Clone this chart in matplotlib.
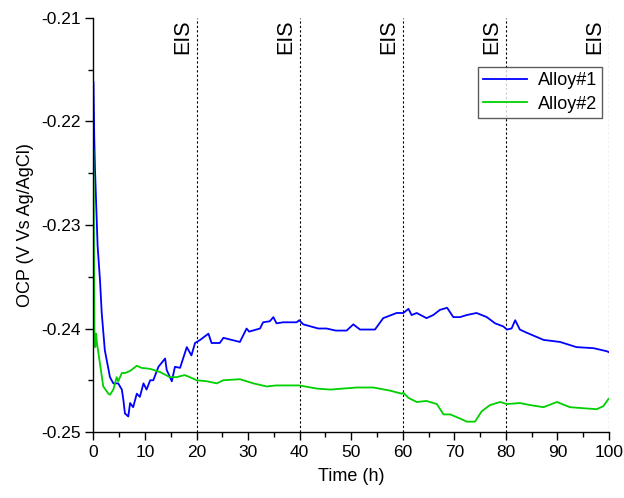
import matplotlib
matplotlib.use("Agg")
import matplotlib.pyplot as plt
from matplotlib.ticker import MultipleLocator

plt.rcParams["font.family"] = ["Liberation Sans", "DejaVu Sans"]

# OCP 时间曲线 (h, V vs Ag/AgCl)
t_alloy1 = [0, 0.15, 0.3, 0.8, 1.26, 1.6, 2.2, 3.2, 3.85, 4.8, 5.5, 5.8, 6.1, 6.75,
            7.1, 7.7, 8.4, 9.0, 9.7, 10.3, 11.0, 11.6, 12.6, 13.9, 14.2, 15.2, 15.8,
            16.8, 18.1, 19.0, 19.7, 20.7, 22.3, 22.9, 24.5, 25.2, 28.4, 29.7, 30.2,
            32.3, 32.9, 34.2, 34.9, 35.5, 36.8, 39.4, 39.9, 40.7, 43.6, 45.2, 47.0,
            49.1, 50.4, 51.7, 54.6, 56.2, 58.8, 60.1, 61.1, 61.7, 62.7, 64.6, 65.9,
            67.2, 68.6, 69.8, 71.1, 72.4, 74.3, 76.3, 77.9, 79.5, 80.2, 81.1, 81.8,
            82.7, 84.0, 87.3, 90.5, 93.7, 97.0, 99.6, 100]
v_alloy1 = [-0.2162, -0.2215, -0.2247, -0.2320, -0.2353, -0.2385, -0.2421, -0.2447,
            -0.2453, -0.2453, -0.2459, -0.2469, -0.2482, -0.2485, -0.2472, -0.2476,
            -0.2463, -0.2466, -0.2453, -0.2459, -0.2450, -0.2450, -0.2437, -0.2429,
            -0.2440, -0.2451, -0.2437, -0.2438, -0.2418, -0.2426, -0.2414, -0.2411,
            -0.2405, -0.2414, -0.2414, -0.2409, -0.2413, -0.2400, -0.2403, -0.2400,
            -0.2394, -0.2393, -0.2389, -0.2395, -0.2394, -0.2394, -0.2392, -0.2396,
            -0.2400, -0.2400, -0.2402, -0.2402, -0.2396, -0.2401, -0.2401, -0.2390,
            -0.2385, -0.2385, -0.2381, -0.2387, -0.2385, -0.2390, -0.2387, -0.2382,
            -0.2380, -0.2389, -0.2389, -0.2387, -0.2385, -0.2389, -0.2395, -0.2398,
            -0.2401, -0.2400, -0.2392, -0.2401, -0.2404, -0.2411, -0.2413, -0.2418,
            -0.2419, -0.2422, -0.2423]

t_alloy2 = [0, 0.1, 0.2, 0.35, 0.5, 0.7, 1.0, 1.26, 1.9, 2.9, 3.2, 3.85, 4.5, 4.8,
            5.5, 6.1, 7.1, 8.4, 9.3, 11.0, 12.9, 14.8, 16.1, 17.7, 18.7, 20.0, 22.0,
            23.9, 25.2, 28.4, 31.0, 33.6, 35.5, 39.9, 43.3, 45.9, 48.5, 51.1, 54.3,
            57.5, 59.8, 60.1, 61.1, 62.7, 64.6, 66.6, 67.9, 69.2, 71.1, 72.4, 74.0,
            75.3, 76.9, 78.9, 80.2, 82.7, 84.7, 87.3, 89.9, 92.4, 95.0, 97.6, 98.9,
            99.9]
v_alloy2 = [-0.2228, -0.2330, -0.2408, -0.2418, -0.2405, -0.2415, -0.2425, -0.2434,
            -0.2456, -0.2463, -0.2464, -0.2459, -0.2447, -0.2451, -0.2443, -0.2443,
            -0.2441, -0.2436, -0.2438, -0.2439, -0.2442, -0.2447, -0.2447, -0.2445,
            -0.2447, -0.2450, -0.2451, -0.2453, -0.2450, -0.2449, -0.2453, -0.2456,
            -0.2455, -0.2455, -0.2458, -0.2459, -0.2458, -0.2457, -0.2457, -0.2460,
            -0.2463, -0.2462, -0.2467, -0.2471, -0.2470, -0.2473, -0.2483, -0.2483,
            -0.2487, -0.2490, -0.2490, -0.2480, -0.2474, -0.2471, -0.2473, -0.2472,
            -0.2474, -0.2476, -0.2471, -0.2476, -0.2477, -0.2478, -0.2475, -0.2468]

# EIS 测试时刻
eis_times = [20, 40, 60, 80, 100]

fig = plt.figure(figsize=(6.24, 4.98), dpi=100)
ax = fig.add_axes([0.1498, 0.1325, 0.8262, 0.8314])

ax.plot(t_alloy1, v_alloy1, color="#0000ff", lw=1.3, label="Alloy#1")
ax.plot(t_alloy2, v_alloy2, color="#00d000", lw=1.3, label="Alloy#2")

for te in eis_times:
    ax.axvline(te, color="black", lw=0.8, linestyle=(0, (2, 2)), zorder=1)
    ax.text(te - 0.7, -0.2101, "EIS", rotation=90, ha="right", va="top", fontsize=15.5)

ax.set_xlim(0, 100)
ax.set_ylim(-0.25, -0.21)
ax.xaxis.set_major_locator(MultipleLocator(10))
ax.xaxis.set_minor_locator(MultipleLocator(5))
ax.yaxis.set_major_locator(MultipleLocator(0.01))
ax.yaxis.set_minor_locator(MultipleLocator(0.005))
ax.yaxis.set_major_formatter(plt.FuncFormatter(lambda v, p: f"{v:.2f}"))

for s in ("top", "right"):
    ax.spines[s].set_visible(False)
for s in ("left", "bottom"):
    ax.spines[s].set_linewidth(1.0)

ax.tick_params(which="major", direction="out", length=6, width=1, labelsize=12.5, pad=3)
ax.tick_params(which="minor", direction="out", length=3.5, width=1)

ax.set_xlabel("Time (h)", fontsize=13, labelpad=6)
ax.set_ylabel("OCP (V Vs Ag/AgCl)", fontsize=13, labelpad=5)

leg = ax.legend(loc="upper right", bbox_to_anchor=(0.987, 0.882), fontsize=13,
                frameon=True, fancybox=False, edgecolor="#333333",
                handlelength=2.4, borderpad=0.3, labelspacing=0.35,
                handletextpad=0.6, borderaxespad=0)
leg.get_frame().set_linewidth(1.0)

fig.savefig("out.png", dpi=100)
